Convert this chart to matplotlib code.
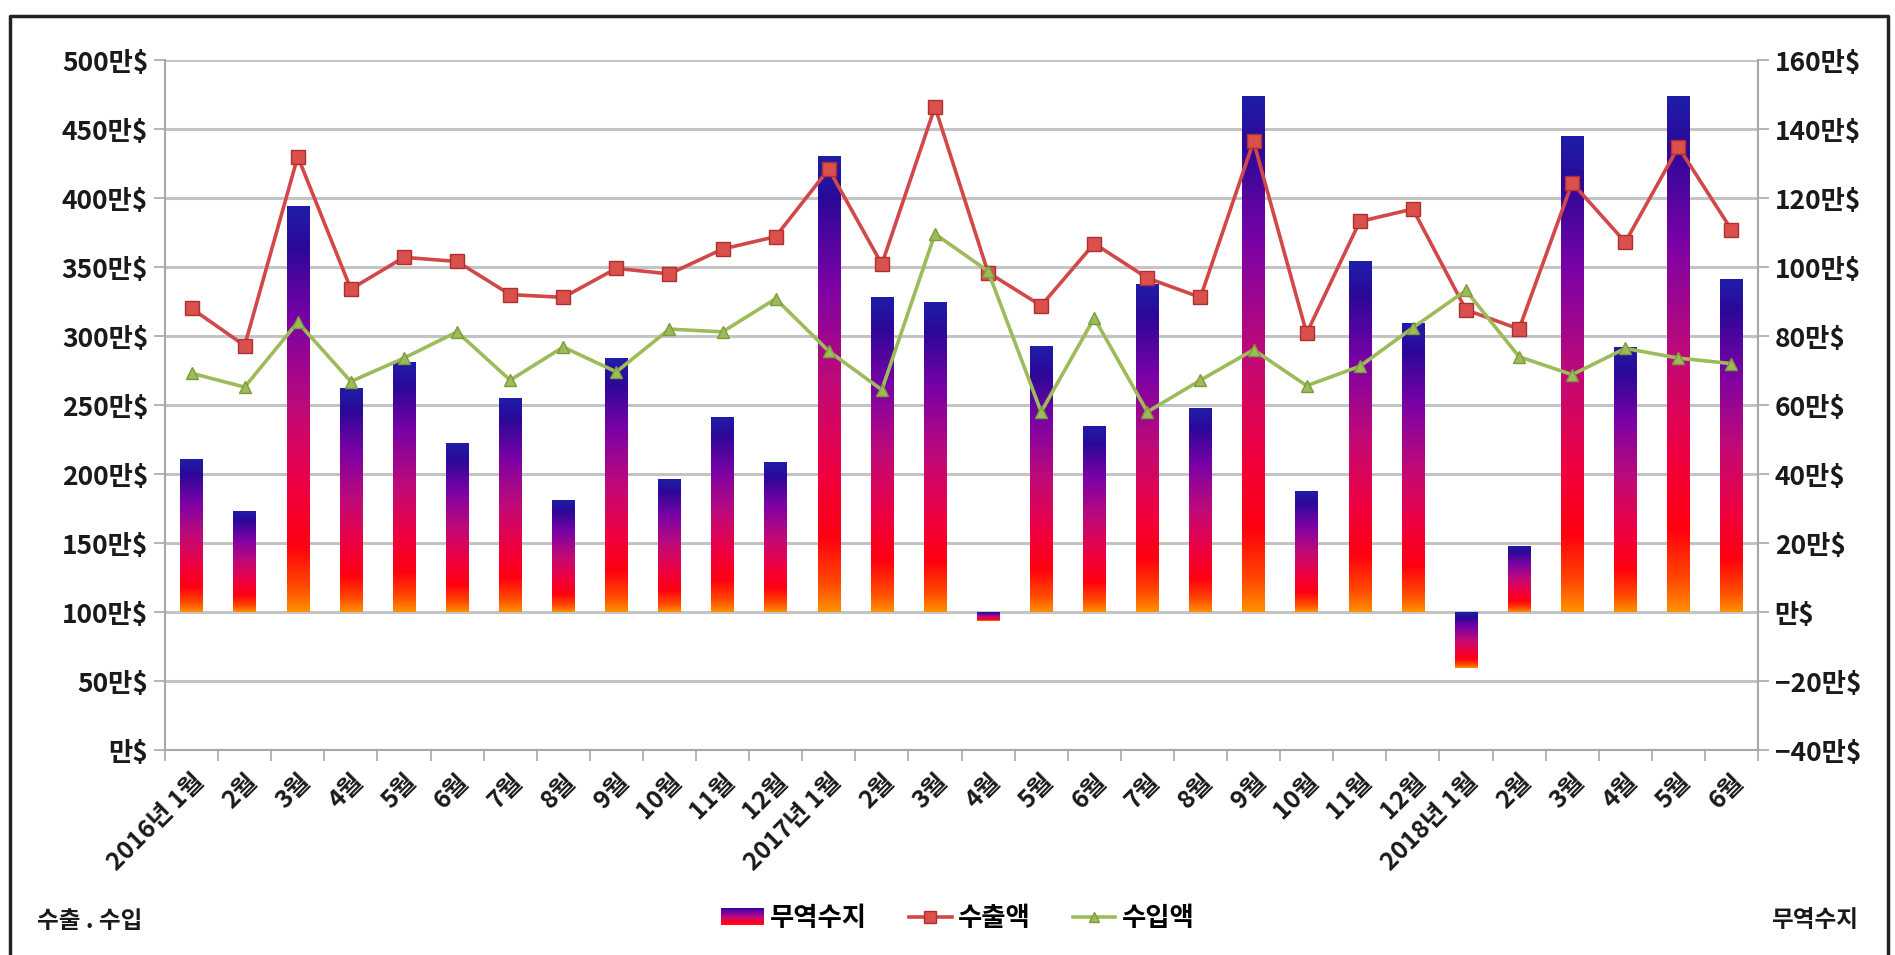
import numpy as np
import matplotlib
matplotlib.use('Agg')
import matplotlib.pyplot as plt
from matplotlib.colors import LinearSegmentedColormap
from matplotlib.legend_handler import HandlerBase
from matplotlib.patches import Rectangle
from matplotlib.lines import Line2D

plt.rcParams['font.family'] = ['Noto Sans CJK KR', 'DejaVu Sans']
plt.rcParams['font.weight'] = 'bold'

# ---------------- data ----------------
months = ['2016년 1월', '2월', '3월', '4월', '5월', '6월', '7월', '8월', '9월', '10월', '11월', '12월',
          '2017년 1월', '2월', '3월', '4월', '5월', '6월', '7월', '8월', '9월', '10월', '11월', '12월',
          '2018년 1월', '2월', '3월', '4월', '5월', '6월']
# 무역수지 (right axis, 만$)
balance = [44.3, 29.4, 117.6, 64.8, 72.6, 48.9, 61.9, 32.4, 73.5, 38.6, 56.6, 43.4,
           132.3, 91.4, 89.9, -2.5, 77.0, 54.0, 95.2, 59.0, 149.5, 35.0, 101.7, 83.7,
           -16.1, 19.2, 138.0, 76.9, 149.5, 96.6]
# 수출액 (left axis, 만$)
exports = [320, 293, 430, 334, 357, 354, 330, 328, 349, 345, 363, 372,
           421, 352, 466, 346, 322, 367, 342, 328, 441, 302, 383, 392,
           319, 305, 411, 368, 437, 377]
# 수입액 (left axis, 만$)
imports = [273, 263, 310, 267, 284, 303, 268, 292, 274, 305, 303, 327,
           289, 261, 374, 347, 245, 313, 245, 268, 290, 264, 278, 306,
           333, 285, 272, 291, 284, 280]

left_ticks = [0, 50, 100, 150, 200, 250, 300, 350, 400, 450, 500]
left_labels = ['만$', '50만$', '100만$', '150만$', '200만$', '250만$', '300만$',
               '350만$', '400만$', '450만$', '500만$']
right_ticks = [-40, -20, 0, 20, 40, 60, 80, 100, 120, 140, 160]
right_labels = ['−40만$', '−20만$', '만$', '20만$', '40만$', '60만$', '80만$',
                '100만$', '120만$', '140만$', '160만$']

series_names = ['무역수지', '수출액', '수입액']

# ---------------- styling ----------------
W, H = 1895, 955
fig = plt.figure(figsize=(W / 100, H / 100), dpi=100)
fig.patch.set_facecolor('white')

ax = fig.add_axes([165 / W, 1 - 750 / H, (1758 - 165) / W, (750 - 60) / H])
axr = ax.twinx()
ax.set_zorder(2)
axr.set_zorder(1)
ax.patch.set_visible(False)

grad_cmap = LinearSegmentedColormap.from_list(
    'bargrad',
    [(0.0, '#ff9000'), (0.06, '#ff4a00'), (0.16, '#ff0010'), (0.30, '#f00040'),
     (0.50, '#c00a78'), (0.72, '#7a02a6'), (0.90, '#2c0898'), (1.0, '#1e1ea8')])

x = np.arange(len(months))
bars = axr.bar(x, balance, width=0.42, color='none', edgecolor='none', zorder=1)
grad = np.linspace(0, 1, 256).reshape(-1, 1)
for rect in bars:
    x0 = rect.get_x()
    w = rect.get_width()
    y0 = rect.get_y()
    h = rect.get_height()
    yb, yt = min(y0, y0 + h), max(y0, y0 + h)
    im = axr.imshow(grad, extent=[x0, x0 + w, yb, yt], origin='lower', cmap=grad_cmap,
                    aspect='auto', zorder=1, interpolation='bilinear')
    im.set_clip_path(rect)

axr.set_xlim(-0.5, len(months) - 0.5)
axr.set_ylim(-40, 160)
axr.set_yticks(right_ticks, right_labels)
axr.grid(axis='y', color='#c4c4c4', lw=2.2)
axr.set_axisbelow(True)
axr.tick_params(axis='y', length=8, width=1.2, color='#a8a8a8', labelsize=19,
                labelcolor='#1a1a1a', pad=4)

ax.plot(x, exports, color='#d24848', lw=2.6, marker='s', ms=9.5, mfc='#d9504c',
        mec='#b03030', mew=1.0, zorder=3)
ax.plot(x, imports, color='#9dbb5a', lw=2.6, marker='^', ms=8.5, mfc='#9dbb5a',
        mec='#7c9c3c', mew=1.0, zorder=3)
ax.set_xlim(-0.5, len(months) - 0.5)
ax.set_ylim(0, 500)
ax.set_yticks(left_ticks, left_labels)
ax.tick_params(axis='y', length=8, width=1.2, color='#a8a8a8', labelsize=19,
               labelcolor='#1a1a1a', pad=4)

ax.set_xticks(np.arange(-0.5, len(months), 1))
ax.set_xticklabels([])
ax.set_xticks(x, minor=True)
ax.set_xticklabels(months, minor=True, rotation=45, ha='right', rotation_mode='anchor',
                   fontsize=18, color='#1a1a1a')
ax.tick_params(axis='x', which='major', length=8, width=1.2, color='#a8a8a8')
ax.tick_params(axis='x', which='minor', length=0, pad=14)

for sp in ['top', 'right']:
    ax.spines[sp].set_visible(False)
for sp in ['left', 'bottom']:
    ax.spines[sp].set_color('#a8a8a8')
    ax.spines[sp].set_linewidth(1.5)
for sp in ['top', 'left', 'bottom']:
    axr.spines[sp].set_visible(False)
axr.spines['right'].set_color('#a8a8a8')
axr.spines['right'].set_linewidth(1.5)


class GradHandler(HandlerBase):
    def create_artists(self, legend, orig_handle, xdescent, ydescent, width, height,
                       fontsize, trans):
        n = 10
        arts = []
        for i in range(n):
            c = grad_cmap(0.1 + 0.85 * (i + 0.5) / n)
            r = Rectangle((-xdescent, -ydescent + i * height / n), width, height / n * 1.05,
                          facecolor=c, edgecolor='none', transform=trans)
            arts.append(r)
        return arts


proxy_bar = Rectangle((0, 0), 1, 1)
h_exp = Line2D([], [], color='#d24848', lw=2.6, marker='s', ms=8, mfc='#d9504c', mec='#b03030')
h_imp = Line2D([], [], color='#9dbb5a', lw=2.6, marker='^', ms=7, mfc='#9dbb5a', mec='#7c9c3c')
fig.legend([proxy_bar, h_exp, h_imp], series_names, loc='center',
           bbox_to_anchor=(958 / W, 1 - 918 / H), ncol=3, frameon=False, fontsize=19,
           handlelength=1.6, handleheight=0.6, columnspacing=1.6, handletextpad=0.25,
           handler_map={proxy_bar: GradHandler()})

fig.text(37 / W, 1 - 921 / H, '수출 . 수입', fontsize=17, ha='left', va='center', color='#1a1a1a')
fig.text(1858 / W, 1 - 920 / H, '무역수지', fontsize=17, ha='right', va='center', color='#1a1a1a')

# outer frame
fig.add_artist(Line2D([10 / W, 10 / W, 1888 / W, 1888 / W], [0, 1 - 16 / H, 1 - 16 / H, 0],
                      transform=fig.transFigure, color='#222222', lw=2.5))

fig.savefig('out.png', dpi=100)
